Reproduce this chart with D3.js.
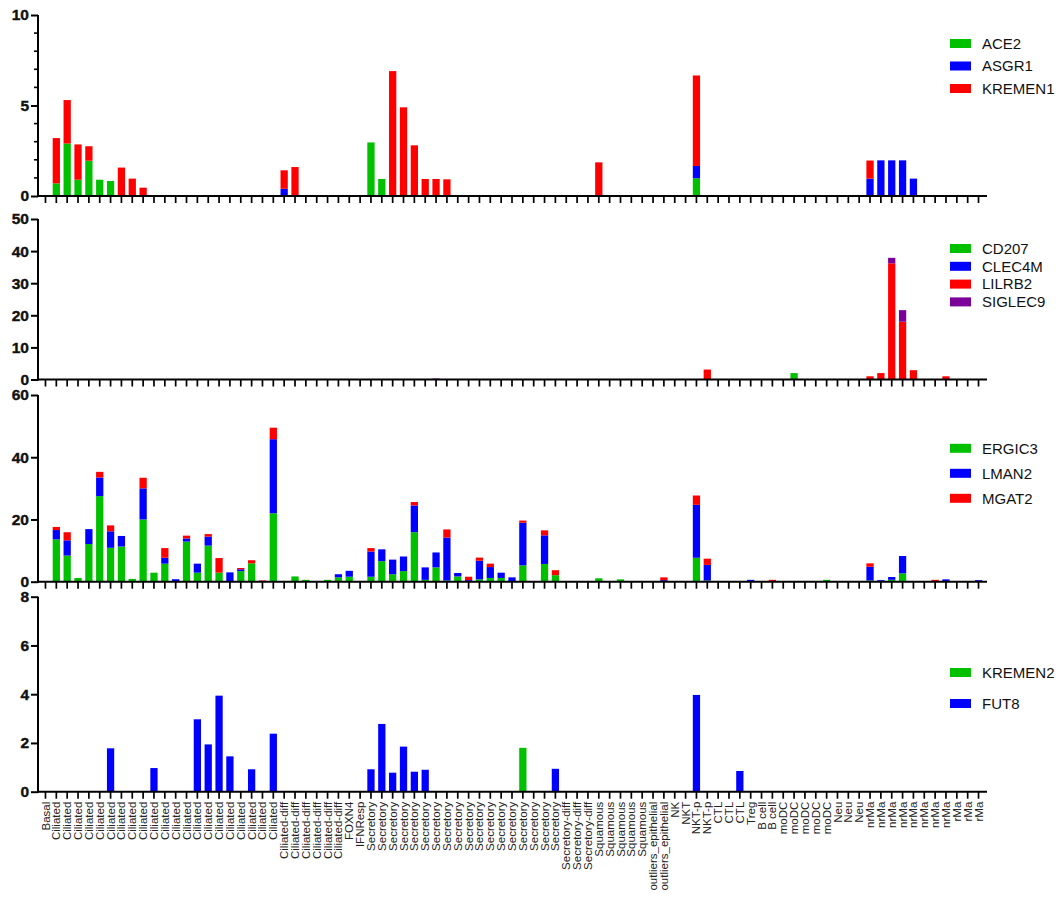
<!DOCTYPE html>
<html>
<head>
<meta charset="utf-8">
<script src="https://cdn.jsdelivr.net/npm/d3@7"></script>
<style>
  html, body { margin: 0; padding: 0; background: #fff; }
  svg { display: block; font-family: "Liberation Sans", Arial, sans-serif; }
  .ylab { font-family: "Liberation Sans", Arial, sans-serif; font-weight: 700; font-size: 15.5px; }
</style>
</head>
<body>
<svg id="chart" width="1061" height="899"></svg>
<script>
// Cell-type clusters along the shared x axis
const categories = [
  "Basal",
  "Ciliated","Ciliated","Ciliated","Ciliated","Ciliated","Ciliated","Ciliated",
  "Ciliated","Ciliated","Ciliated","Ciliated","Ciliated","Ciliated","Ciliated",
  "Ciliated","Ciliated","Ciliated","Ciliated","Ciliated","Ciliated","Ciliated",
  "Ciliated-diff","Ciliated-diff","Ciliated-diff","Ciliated-diff","Ciliated-diff","Ciliated-diff",
  "FOXN4","IFNResp",
  "Secretory","Secretory","Secretory","Secretory","Secretory","Secretory",
  "Secretory","Secretory","Secretory","Secretory","Secretory","Secretory",
  "Secretory","Secretory","Secretory","Secretory","Secretory","Secretory",
  "Secretory-diff","Secretory-diff","Secretory-diff",
  "Squamous","Squamous","Squamous","Squamous","Squamous",
  "outliers_epithelial","outliers_epithelial",
  "NK","NKT","NKT-p","NKT-p","CTL","CTL","CTL","Treg","B cell","B cell",
  "moDC","moDC","moDC","moDC","moDC","Neu","Neu","Neu",
  "nrMa","nrMa","nrMa","nrMa","nrMa","nrMa","nrMa","nrMa",
  "rMa","rMa","rMa"
];

// Panel 1
const ace2 = [
  0, 0.7, 2.9, 0.9, 1.95, 0.9, 0.83, 0, 0, 0,
  0, 0, 0, 0, 0, 0, 0, 0, 0, 0,
  0, 0, 0, 0, 0, 0, 0, 0, 0, 0,
  2.96, 0.94, 0, 0, 0, 0, 0, 0, 0, 0,
  0, 0, 0, 0, 0, 0, 0, 0, 0, 0,
  0, 0, 0, 0, 0, 0, 0, 0, 0, 0,
  0.98, 0, 0, 0, 0, 0, 0, 0, 0, 0,
  0, 0, 0, 0, 0, 0, 0, 0, 0, 0,
  0, 0, 0, 0, 0, 0, 0
];
const asgr1 = [
  0, 0, 0, 0, 0, 0, 0, 0, 0, 0,
  0, 0, 0, 0, 0, 0, 0, 0, 0, 0,
  0, 0, 0.4, 0, 0, 0, 0, 0, 0, 0,
  0, 0, 0, 0, 0, 0, 0, 0, 0, 0,
  0, 0, 0, 0, 0, 0, 0, 0, 0, 0,
  0, 0, 0, 0, 0, 0, 0, 0, 0, 0,
  0.68, 0, 0, 0, 0, 0, 0, 0, 0, 0,
  0, 0, 0, 0, 0, 0, 0.96, 1.97, 1.97, 1.97,
  0.96, 0, 0, 0, 0, 0, 0
];
const kremen1 = [
  0, 2.5, 2.4, 1.95, 0.8, 0, 0, 1.57, 0.96, 0.46,
  0, 0, 0, 0, 0, 0, 0, 0, 0, 0,
  0, 0, 1.02, 1.6, 0, 0, 0, 0, 0, 0,
  0, 0, 6.9, 4.9, 2.8, 0.94, 0.94, 0.92, 0, 0,
  0, 0, 0, 0, 0, 0, 0, 0, 0, 0,
  0, 1.86, 0, 0, 0, 0, 0, 0, 0, 0,
  5.0, 0, 0, 0, 0, 0, 0, 0, 0, 0,
  0, 0, 0, 0, 0, 0, 1.0, 0, 0, 0,
  0, 0, 0, 0, 0, 0, 0
];

// Panel 2
const cd207 = [
  0, 0, 0, 0, 0, 0, 0, 0, 0, 0,
  0, 0, 0, 0, 0, 0, 0, 0, 0, 0,
  0, 0, 0, 0, 0, 0, 0, 0, 0, 0,
  0, 0, 0, 0, 0, 0, 0, 0, 0, 0,
  0, 0, 0, 0, 0, 0, 0, 0, 0, 0,
  0, 0, 0, 0, 0, 0, 0, 0, 0, 0,
  0, 0, 0, 0, 0, 0, 0, 0, 0, 2.0,
  0, 0, 0, 0, 0, 0, 0, 0, 0, 0,
  0, 0, 0, 0, 0, 0, 0
];
const clec4m = [
  0, 0, 0, 0, 0, 0, 0, 0, 0, 0,
  0, 0, 0, 0, 0, 0, 0, 0, 0, 0,
  0, 0, 0, 0, 0, 0, 0, 0, 0, 0,
  0, 0, 0, 0, 0, 0, 0, 0, 0, 0,
  0, 0, 0, 0, 0, 0, 0, 0, 0, 0,
  0, 0, 0, 0, 0, 0, 0, 0, 0, 0,
  0, 0, 0, 0, 0, 0, 0, 0, 0, 0,
  0, 0, 0, 0, 0, 0, 0, 0, 0, 0,
  0, 0, 0, 0, 0, 0, 0
];
const lilrb2 = [
  0, 0, 0, 0, 0, 0, 0, 0, 0, 0,
  0, 0, 0, 0, 0, 0, 0, 0, 0, 0,
  0, 0, 0, 0, 0, 0, 0, 0, 0, 0,
  0, 0, 0, 0, 0, 0, 0, 0, 0, 0,
  0, 0, 0, 0, 0, 0, 0, 0, 0, 0,
  0, 0, 0, 0, 0, 0, 0, 0, 0, 0,
  0, 3.1, 0, 0, 0, 0, 0, 0, 0, 0,
  0, 0, 0, 0, 0, 0, 1.0, 2.0, 36.2, 18.0,
  2.9, 0, 0, 1.0, 0, 0, 0
];
const siglec9 = [
  0, 0, 0, 0, 0, 0, 0, 0, 0, 0,
  0, 0, 0, 0, 0, 0, 0, 0, 0, 0,
  0, 0, 0, 0, 0, 0, 0, 0, 0, 0,
  0, 0, 0, 0, 0, 0, 0.3, 0, 0, 0,
  0, 0, 0, 0, 0, 0, 0, 0, 0, 0,
  0, 0, 0, 0, 0, 0, 0, 0, 0, 0,
  0, 0, 0, 0, 0, 0, 0, 0, 0, 0,
  0, 0, 0, 0, 0, 0, 0, 0, 1.7, 3.6,
  0, 0, 0, 0, 0, 0, 0
];

// Panel 3
const ergic3 = [
  0, 13.6, 8.4, 1.2, 12.1, 27.5, 10.9, 11.3, 0.9, 20.0,
  2.9, 5.8, 0, 12.9, 2.9, 11.6, 2.9, 0, 3.4, 5.9,
  0, 22.0, 0, 1.7, 0.6, 0, 0.6, 1.4, 1.6, 0,
  1.6, 6.6, 2.4, 3.4, 15.9, 0.6, 4.6, 0.4, 1.7, 0,
  0.75, 1.2, 1.2, 0, 5.25, 0, 5.7, 2.1, 0, 0,
  0, 1.1, 0, 0.75, 0, 0, 0, 0, 0, 0,
  7.7, 0.4, 0, 0, 0, 0, 0, 0, 0, 0,
  0, 0, 0.6, 0, 0, 0, 0.4, 0, 0.6, 2.7,
  0, 0, 0, 0, 0, 0, 0
];
const lman2 = [
  0, 3.0, 4.9, 0, 4.8, 6.0, 5.3, 3.4, 0, 10.0,
  0, 1.9, 0.8, 1.0, 2.9, 2.9, 0, 3.0, 0.6, 0,
  0, 23.8, 0, 0, 0, 0, 0, 1.0, 1.9, 0,
  8.1, 3.8, 4.7, 4.7, 8.6, 4.0, 4.8, 13.8, 1.1, 0.5,
  6.0, 3.5, 1.7, 1.4, 13.7, 0, 9.2, 0, 0, 0,
  0, 0, 0, 0, 0, 0, 0, 0.5, 0, 0,
  17.0, 5.0, 0, 0, 0, 0.6, 0, 0, 0, 0,
  0, 0, 0, 0, 0, 0, 4.4, 0.5, 0.9, 5.55,
  0, 0, 0, 0.75, 0, 0, 0.5
];
const mgat2 = [
  0, 1.0, 2.6, 0, 0, 1.8, 1.9, 0, 0, 3.4,
  0, 3.1, 0, 0.9, 0, 0.8, 4.7, 0, 0.4, 1.0,
  0.4, 3.7, 0, 0, 0, 0, 0, 0, 0, 0,
  1.1, 0, 0, 0, 1.1, 0, 0, 2.6, 0, 1.1,
  1.0, 1.1, 0, 0, 0.7, 0, 1.6, 1.6, 0, 0,
  0, 0, 0, 0, 0, 0, 0, 0.9, 0, 0,
  3.0, 2.0, 0, 0, 0, 0, 0, 0.6, 0, 0,
  0, 0, 0, 0, 0, 0, 1.1, 0, 0, 0,
  0, 0, 0.6, 0, 0, 0, 0
];

// Panel 4
const kremen2 = [
  0, 0, 0, 0, 0, 0, 0, 0, 0, 0,
  0, 0, 0, 0, 0, 0, 0, 0, 0, 0,
  0, 0, 0, 0, 0, 0, 0, 0, 0, 0,
  0, 0, 0, 0, 0, 0, 0, 0, 0, 0,
  0, 0, 0, 0, 1.8, 0, 0, 0, 0, 0,
  0, 0, 0, 0, 0, 0, 0, 0, 0, 0,
  0, 0, 0, 0, 0, 0, 0, 0, 0, 0,
  0, 0, 0, 0, 0, 0, 0, 0, 0, 0,
  0, 0, 0, 0, 0, 0, 0
];
const fut8 = [
  0, 0, 0, 0, 0, 0, 1.78, 0, 0, 0,
  0.97, 0, 0, 0, 2.97, 1.94, 3.94, 1.45, 0, 0.92,
  0, 2.38, 0, 0, 0, 0, 0, 0, 0, 0,
  0.92, 2.78, 0.78, 1.85, 0.82, 0.9, 0, 0, 0, 0,
  0, 0, 0, 0, 0, 0, 0, 0.94, 0, 0,
  0, 0, 0, 0, 0, 0, 0, 0, 0, 0,
  3.97, 0, 0, 0, 0.85, 0, 0, 0, 0, 0,
  0, 0, 0, 0, 0, 0, 0, 0, 0, 0,
  0, 0, 0, 0, 0, 0, 0
];

// Y axis settings per panel
const p1Ticks = [0, 5, 10];
const p2Ticks = [0, 10, 20, 30, 40, 50];
const p3Ticks = [0, 20, 40, 60];
const p4Ticks = [0, 2, 4, 6, 8];

const GREEN = "#00c000", BLUE = "#0000ff", RED = "#ff0000", PURPLE = "#7b0099";
const FONT = "'Liberation Sans', Arial, sans-serif";

const panels = [
  { top: 15, bottom: 196, max: 10, ticks: p1Ticks, minor: d3.range(1, 10).filter(v => v !== 5),
    series: [["ACE2", ace2, GREEN], ["ASGR1", asgr1, BLUE], ["KREMEN1", kremen1, RED]],
    legendY: 43.5, legendGap: 22.5 },
  { top: 219, bottom: 379.5, max: 50, ticks: p2Ticks, minor: [],
    series: [["CD207", cd207, GREEN], ["CLEC4M", clec4m, BLUE], ["LILRB2", lilrb2, RED], ["SIGLEC9", siglec9, PURPLE]],
    legendY: 248.5, legendGap: 17.8 },
  { top: 395, bottom: 581.7, max: 60, ticks: p3Ticks, minor: [],
    series: [["ERGIC3", ergic3, GREEN], ["LMAN2", lman2, BLUE], ["MGAT2", mgat2, RED]],
    legendY: 448.3, legendGap: 25 },
  { top: 596.7, bottom: 791.7, max: 8, ticks: p4Ticks, minor: [],
    series: [["KREMEN2", kremen2, GREEN], ["FUT8", fut8, BLUE]],
    legendY: 672.5, legendGap: 31 }
];

const svg = d3.select("#chart");
const axisX0 = 38, axisX1 = 987;

const x = d3.scaleBand()
  .domain(d3.range(categories.length))
  .range([40, 984])
  .paddingInner(0.33)
  .paddingOuter(0.17);

panels.forEach((p, pi) => {
  const y = d3.scaleLinear().domain([0, p.max]).range([p.bottom, p.top]);
  const g = svg.append("g");

  const keys = p.series.map(s => s[0]);
  const rows = categories.map((c, i) => {
    const r = { i };
    p.series.forEach(s => { r[s[0]] = s[1][i]; });
    return r;
  });
  const stacked = d3.stack().keys(keys)(rows);

  // stacked bars
  stacked.forEach((layer, li) => {
    g.append("g")
      .attr("fill", p.series[li][2])
      .selectAll("rect")
      .data(layer.filter(d => d[1] - d[0] > 0))
      .join("rect")
      .attr("x", d => x(d.data.i))
      .attr("width", x.bandwidth())
      .attr("y", d => y(d[1]))
      .attr("height", d => y(d[0]) - y(d[1]));
  });

  // x axis ticks (labels only on the bottom panel)
  const xAxis = d3.axisBottom(x)
    .tickSize(7)
    .tickSizeOuter(0)
    .tickFormat(pi === panels.length - 1 ? (i => categories[i]) : () => "");
  const gx = g.append("g")
    .attr("transform", `translate(0,${p.bottom})`)
    .call(xAxis)
    .attr("font-family", FONT);
  gx.select(".domain").remove();
  gx.selectAll(".tick line").attr("stroke", "#000").attr("stroke-width", 1.7);
  if (pi === panels.length - 1) {
    gx.selectAll(".tick text")
      .attr("transform", "rotate(-90)")
      .attr("text-anchor", "end")
      .attr("x", -10)
      .attr("y", 0)
      .attr("dy", "0.35em")
      .attr("fill", "#222")
      .style("font-size", "11.5px");
  }

  // baseline
  g.append("line")
    .attr("x1", axisX0).attr("x2", axisX1)
    .attr("y1", p.bottom).attr("y2", p.bottom)
    .attr("stroke", "#000").attr("stroke-width", 2);

  // y axis
  const yAxis = d3.axisLeft(y).tickValues(p.ticks).tickSize(7).tickSizeOuter(0).tickPadding(2);
  const gy = g.append("g")
    .attr("transform", `translate(${axisX0},0)`)
    .call(yAxis)
    .attr("font-family", FONT)
    .attr("font-size", null);
  gy.select(".domain").remove();
  gy.selectAll(".tick line").attr("stroke", "#000").attr("stroke-width", 2);
  gy.selectAll(".tick text")
    .attr("class", "ylab")
    .attr("fill", "#111")
    .attr("font-weight", "bold")
    .attr("stroke", "#111")
    .attr("stroke-width", 0.4);

  g.selectAll(".minor")
    .data(p.minor)
    .join("line")
    .attr("class", "minor")
    .attr("x1", axisX0 - 4).attr("x2", axisX0)
    .attr("y1", d => y(d)).attr("y2", d => y(d))
    .attr("stroke", "#000").attr("stroke-width", 1.6);

  g.append("line")
    .attr("x1", axisX0).attr("x2", axisX0)
    .attr("y1", p.top).attr("y2", p.bottom + 1)
    .attr("stroke", "#000").attr("stroke-width", 2);

  // legend
  const lg = g.append("g").attr("font-family", FONT);
  p.series.forEach((s, si) => {
    const cy = p.legendY + si * p.legendGap;
    lg.append("rect")
      .attr("x", 950).attr("y", cy - 4.5)
      .attr("width", 21).attr("height", 9)
      .attr("fill", s[2]);
    lg.append("text")
      .attr("x", 982).attr("y", cy)
      .attr("dy", "0.35em")
      .attr("fill", "#111")
      .style("font-size", "15px")
      .text(s[0]);
  });
});
</script>
</body>
</html>
